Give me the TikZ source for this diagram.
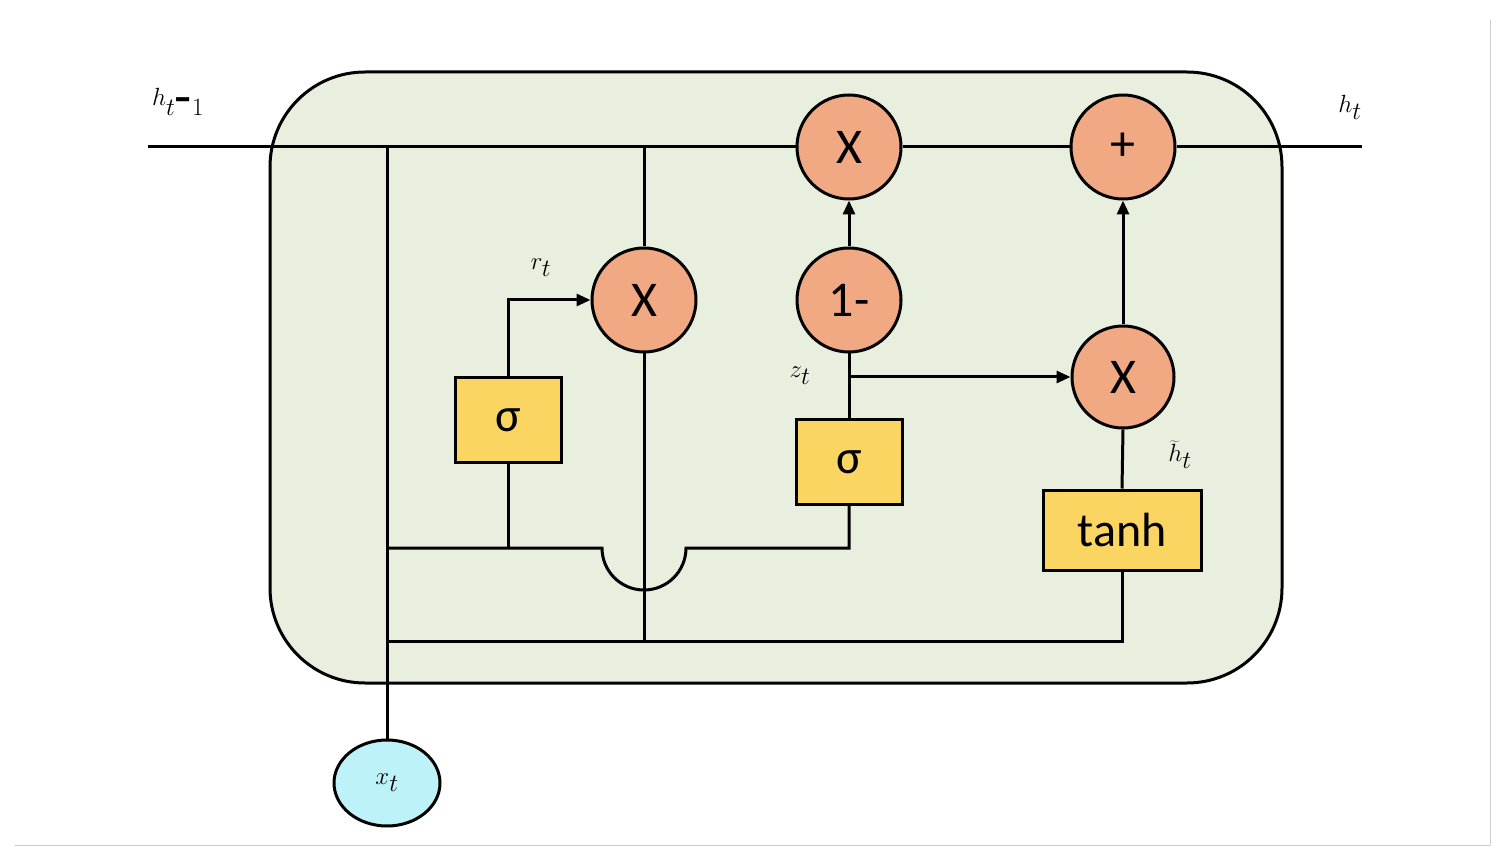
\documentclass[tikz,border=0pt]{standalone}
\usepackage{fontspec}
\setmainfont{Carlito}
\usetikzlibrary{arrows.meta,shapes.geometric}
\definecolor{cellg}{HTML}{E8EFDF}
\definecolor{opc}{HTML}{F0A982}
\definecolor{gatec}{HTML}{FBD561}
\definecolor{inc}{HTML}{BDF3F8}
\begin{document}
\begin{tikzpicture}[x=1pt,y=-1pt,
  ln/.style={line width=3pt,black},
  ar/.style={ln,-{Triangle[length=14pt,width=12pt]}},
  op/.style={circle,draw,line width=3pt,fill=opc,minimum size=104pt,inner sep=0pt,font=\fontsize{50}{50}\selectfont},
  gate/.style={rectangle,draw,line width=3pt,fill=gatec,inner sep=0pt,font=\fontsize{48}{48}\selectfont},
  lab/.style={font=\fontsize{44}{44}\selectfont}]
\useasboundingbox (0,0) rectangle (1510,866);
\draw[gray!40,line width=1pt] (1490,20) -- (1490,845) (15,845) -- (1490,845);
\draw[line width=3pt,fill=cellg,rounded corners=95pt] (270,72) rectangle (1282,683);
\node[op] (m1) at (849,147) {X};
\node[op] (pl) at (1123,147) {+};
\node[op] (mr) at (644,300) {X};
\node[op] (om) at (849,300) {1-};
\node[op,minimum size=102pt] (m2) at (1123,377) {X};
\node[gate,minimum width=106pt,minimum height=85pt] (s1) at (508,420) {σ};
\node[gate,minimum width=106pt,minimum height=85pt] (s2) at (849,462) {σ};
\node[gate,minimum width=158pt,minimum height=80pt] (th) at (1122,530) {tanh};
\node[ellipse,draw,line width=3pt,fill=inc,minimum width=106pt,minimum height=86pt,inner sep=0pt] (x) at (387,783) {\fontsize{50}{50}\selectfont$x_t$};
\coordinate (hl) at (148,147);
\coordinate (hr) at (1362,147);
\coordinate (j0) at (387,147);
\coordinate (j1) at (644,147);
\coordinate (jb) at (387,548);
\coordinate (jz) at (849,377);
\coordinate (bl) at (387,641);
\draw[ln] (hl) -- (m1.west);
\draw[ln] (m1.east) -- (pl.west);
\draw[ln] (pl.east) -- (hr);
\draw[ln] (x.north) -- (j0);
\draw[ln] (j1) -- (mr.north);
\draw[ln] (mr.south) -- (644,641);
\draw[ln] (bl) -- (1122,641) -- (th.south);
\draw[ln] (jb) -- (602,548) arc[start angle=180,end angle=0,radius=42] -- (849,548) -- (s2.south);
\draw[ln] (s1.south) -- (508,548);
\draw[ar] (s1.north) -- (508,300) -- (mr.west);
\draw[ar] (om.north) -- (m1.south);
\draw[ln] (om.south) -- (s2.north);
\draw[ar] (jz) -- (m2.west);
\draw[ln] (th.north) -- (m2.south);
\draw[ar] (m2.north) -- (pl.south);
\node[lab] (l1) at (178,102) {\fontsize{56}{56}\selectfont$h_{t\mbox{-}1}$};
\node[lab] (l2) at (1350,107) {\fontsize{56}{56}\selectfont$h_t$};
\node[lab] (l3) at (541,268) {$r_t$};
\node[lab] (l4) at (800,376) {$z_t$};
\node[lab] (l5) at (1180,455) {$\widetilde{h}_t$};
\end{tikzpicture}
\end{document}
